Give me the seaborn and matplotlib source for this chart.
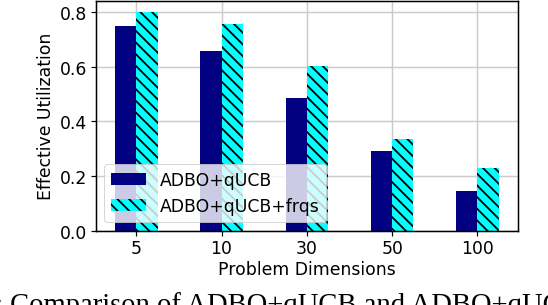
import matplotlib
matplotlib.use("Agg")
import matplotlib.pyplot as plt
import seaborn as sns
import pandas as pd

# ---- data ----
dims = ["5", "10", "30", "50", "100"]
qucb = [0.748, 0.659, 0.485, 0.293, 0.145]
qucb_frqs = [0.801, 0.756, 0.604, 0.336, 0.230]
series = ["ADBO+qUCB", "ADBO+qUCB+frqs"]
colors = ["#000080", "#00ffff"]
yticks = [0.0, 0.2, 0.4, 0.6, 0.8]
caption_prefix = "Figure 4: "
caption_body = "Comparison of ADBO+qUCB and ADBO+qUCB+frqs"

DPI = 70
W, H = 548, 306
PT = 72.0 / DPI  # points per pixel
FS = 17.3 * PT

plt.rcParams.update({
    "font.family": ["DejaVu Sans"],
    "font.size": FS,
    "axes.linewidth": 1.5 * PT,
    "xtick.major.size": 5 * PT,
    "ytick.major.size": 5 * PT,
    "xtick.major.width": 1.2 * PT,
    "ytick.major.width": 1.2 * PT,
    "hatch.linewidth": 1.8 * PT,
    "hatch.color": "black",
    "legend.fontsize": FS,
})

fig = plt.figure(figsize=(W / DPI, H / DPI), dpi=DPI)
fig.patch.set_facecolor("white")
left, right, top, bottom = 95.7, 518.0, 1.5, 232.0
ax = fig.add_axes([left / W, 1 - bottom / H, (right - left) / W, (bottom - top) / H])

df = pd.DataFrame({
    "dim": dims * 2,
    "val": qucb + qucb_frqs,
    "series": [series[0]] * len(dims) + [series[1]] * len(dims),
})
sns.barplot(data=df, x="dim", y="val", hue="series", order=dims, hue_order=series,
            palette=colors, width=0.5, saturation=1, linewidth=0, errorbar=None,
            legend=False, ax=ax)

for p in ax.containers[1]:
    p.set_hatch("\\\\")
    p.set_edgecolor("black")
    p.set_linewidth(0)

ax.set_xlim(-0.475, len(dims) - 1 + 0.475)
ax.set_ylim(0, 0.842)
ax.set_yticks(yticks)
ax.set_yticklabels([f"{v:.1f}" for v in yticks])
ax.grid(True, color="#cccccc", linewidth=1.5 * PT)
ax.set_axisbelow(True)
ax.set_xlabel("Problem Dimensions", labelpad=3 * PT)
ax.set_ylabel("Effective Utilization", labelpad=5 * PT)
for s in ax.spines.values():
    s.set_color("black")

ax.legend([ax.containers[0], ax.containers[1]], series, loc="lower left")

# caption (cut off at the bottom of the picture)
cap_fs = 28.6 * PT
fig.canvas.draw()
r = fig.canvas.get_renderer()
t1 = fig.text(0, 0, caption_prefix + "Comparison", fontsize=cap_fs, family="Liberation Serif")
t2 = fig.text(0, 0, "Comparison", fontsize=cap_fs, family="Liberation Serif")
w1 = t1.get_window_extent(r).width
w2 = t2.get_window_extent(r).width
t1.remove(); t2.remove()
x0 = 10 - (w1 - w2)
fig.text(x0 / W, (H - 313) / H, caption_prefix + caption_body, fontsize=cap_fs,
         family="Liberation Serif", va="baseline", ha="left")

fig.savefig("out.png", dpi=DPI)
